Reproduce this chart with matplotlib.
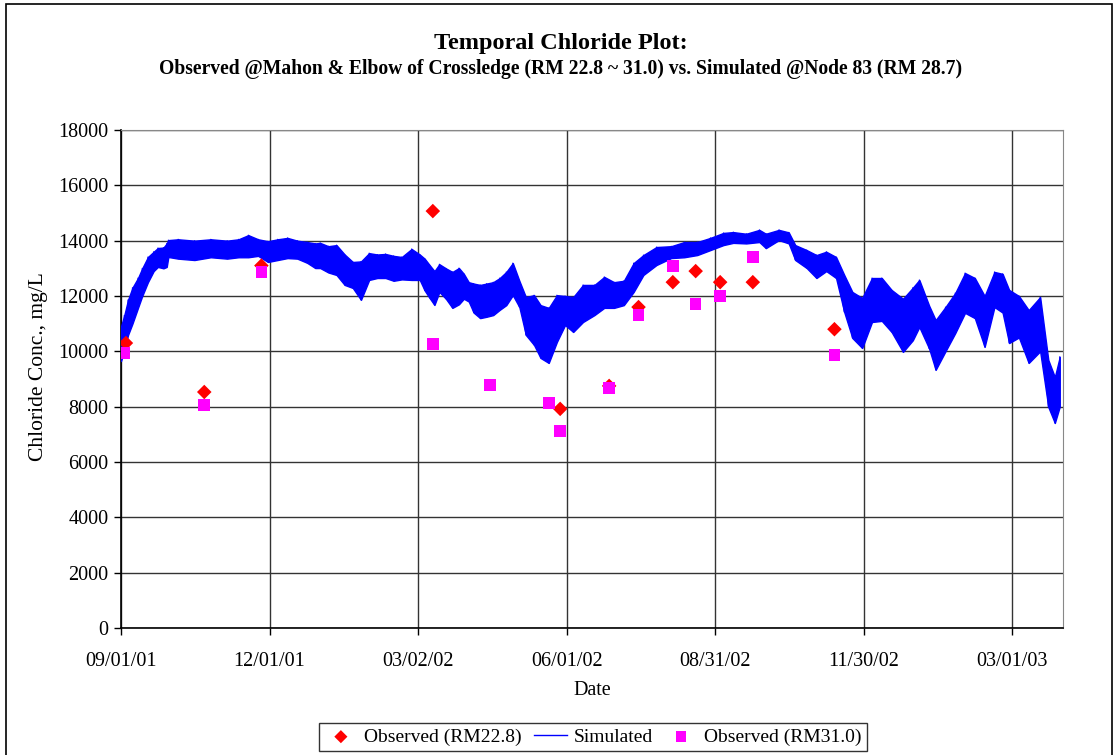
import numpy as np
import matplotlib
matplotlib.use("Agg")
import matplotlib.pyplot as plt
import matplotlib.dates as mdates
from matplotlib.patches import Rectangle

plt.rcParams['font.family'] = ['Liberation Serif', 'DejaVu Serif']

START = np.datetime64('2001-09-01')

# ---- observed data (days after 09/01/01, mg/L) ----
obs228_days = [3, 51, 86, 191, 269, 299, 317, 338, 352, 367, 387, 437]
obs228_vals = [10300, 8530, 13100, 15070, 7920, 8750, 11600, 12500, 12900, 12500, 12500, 10800]

obs310_days = [2, 51, 86, 191, 226, 262, 269, 299, 317, 338, 352, 367, 387, 437]
obs310_vals = [9940, 8060, 12870, 10270, 8780, 8130, 7120, 8670, 11310, 13080, 11710, 12000, 13410, 9870]

# ---- simulated series, read as low/high envelope of the dense trace ----
sim_days = [0, 2, 4.3, 7, 10.4, 13, 16.5, 20, 22.6, 26, 28, 29, 35, 45, 55, 65, 72, 78, 84, 90,
            96, 102, 108, 114, 119, 122, 127, 132, 137, 142, 147, 152, 157, 162, 167, 172, 178,
            183, 186, 189, 192, 195, 199, 203, 207, 210, 213, 216, 220, 224, 228, 232, 236, 240,
            244, 248, 253, 257, 262, 267, 272, 277, 283, 290, 296, 302, 308, 314, 320, 328, 337,
            345, 353, 361, 369, 375, 383, 391, 395, 403, 409, 413, 420, 426, 432, 438, 443, 448,
            454, 460, 466, 472, 479, 485, 489, 495, 499, 505, 511, 517, 523, 529, 535, 540, 544,
            550, 556, 563, 568, 572, 575]
sim_low = [9650, 10000, 10590, 11000, 11570, 12000, 12500, 12900, 13050, 13000, 13050, 13410,
           13350, 13300, 13400, 13350, 13400, 13400, 13450, 13230, 13300, 13370, 13350, 13200,
           13010, 13010, 12850, 12760, 12400, 12290, 11860, 12580, 12650, 12650, 12550, 12600,
           12580, 12580, 12200, 11930, 11675, 12145, 11900, 11570, 11700, 11900, 11800, 11400,
           11200, 11250, 11310, 11500, 11670, 12030, 11600, 10590, 10230, 9760, 9580, 10340,
           10950, 10700, 11060, 11310, 11570, 11570, 11670, 12145, 12760, 13120, 13370, 13400,
           13480, 13660, 13840, 13920, 13900, 13950, 13730, 14020, 13900, 13300, 13010, 12650,
           12900, 12650, 11420, 10480, 10120, 11060, 11100, 10700, 9980, 10400, 10880, 10100,
           9330, 10000, 10660, 11390, 11200, 10160, 11600, 11400, 10300, 10500, 9580, 10000,
           7990, 7410, 8000]
sim_high = [10900, 11300, 11860, 12300, 12650, 13000, 13410, 13600, 13735, 13750, 13900, 14020,
            14050, 14000, 14050, 14000, 14050, 14200, 14050, 13980, 14050, 14100, 14000, 13950,
            13900, 13920, 13800, 13840, 13500, 13230, 13250, 13550, 13500, 13520, 13450, 13410,
            13700, 13500, 13350, 13120, 12900, 13150, 13000, 12870, 13010, 12800, 12500, 12450,
            12400, 12450, 12500, 12650, 12870, 13190, 12550, 11960, 12030, 11670, 11570, 12030,
            12000, 11960, 12400, 12400, 12690, 12500, 12550, 13190, 13480, 13770, 13800, 13950,
            13950, 14100, 14280, 14310, 14250, 14390, 14250, 14390, 14300, 13840, 13660, 13480,
            13600, 13410, 12760, 12145, 11930, 12650, 12650, 12220, 11900, 12300, 12580, 11650,
            11130, 11600, 12110, 12830, 12650, 12000, 12870, 12800, 12220, 12000, 11490, 11960,
            9690, 9070, 9800]

x_tick_days = [0, 91, 182, 273, 364, 455, 546]
x_max_day = 577

def to_dates(days):
    return START + (np.array(days, dtype=float) * 86400).astype('timedelta64[s]')

fig = plt.figure(figsize=(11.13, 7.55), dpi=100)
ax = fig.add_axes([121/1113, 1 - 628/755, (1063 - 121)/1113, (628 - 130)/755])

sd = to_dates(sim_days)
ax.fill_between(sd, sim_low, sim_high, color='#0000ff', linewidth=1.0, edgecolor='#0000ff', zorder=3)
# trace zig-zagging between the read lows and highs, to give the dense-trace texture
zz_x = np.repeat(sd, 2)
zz_y = np.column_stack([sim_low, sim_high]).ravel()
ax.plot(zz_x, zz_y, color='#0000ff', lw=0.8, zorder=3)
ax.plot([], [], color='#0000ff', lw=1, label='Simulated')

ax.scatter(to_dates(obs228_days), obs228_vals, marker='D', s=55, color='#ff0000',
           edgecolors='none', zorder=4, label='Observed (RM22.8)')
ax.scatter(to_dates(obs310_days), obs310_vals, marker='s', s=70, color='#ff00ff',
           edgecolors='none', zorder=5, label='Observed (RM31.0)')

ax.set_xlim(to_dates([0])[0], to_dates([x_max_day])[0])
ax.set_ylim(0, 18000)
ax.set_yticks(np.arange(0, 18001, 2000))
ticks = to_dates(x_tick_days)
ax.set_xticks(ticks)
ax.xaxis.set_major_formatter(mdates.DateFormatter('%m/%d/%y'))
ax.grid(True, color='#333333', linewidth=1.0, zorder=0)
ax.set_axisbelow(True)
ax.tick_params(axis='both', labelsize=14.5, direction='out', length=5, width=1, color='black', pad=4)
ax.tick_params(axis='x', pad=12)
for s in ['top', 'right']:
    ax.spines[s].set_color('#888888')
for s in ['left', 'bottom']:
    ax.spines[s].set_color('black')
    ax.spines[s].set_linewidth(1.2)

ax.set_xlabel('Date', fontsize=14.5)
ax.xaxis.set_label_coords(0.5, -(681 - 628) / 498)
ax.set_ylabel('Chloride Conc., mg/L', fontsize=15.5)
ax.yaxis.set_label_coords((48 - 121) / 942, (628 - 367) / 498)

fig.text(0.504, 0.943, 'Temporal Chloride Plot:', ha='center', va='center', fontsize=17.5, fontweight='bold')
fig.text(0.504, 0.909, 'Observed @Mahon & Elbow of Crossledge (RM 22.8 ~ 31.0) vs. Simulated @Node 83 (RM 28.7)',
         ha='center', va='center', fontsize=14.1, fontweight='bold')

h, l = ax.get_legend_handles_labels()
order = [l.index('Observed (RM22.8)'), l.index('Simulated'), l.index('Observed (RM31.0)')]
leg = fig.legend([h[i] for i in order], [l[i] for i in order], loc='center',
                 bbox_to_anchor=(593/1113, 1 - 737/755), ncol=3, fontsize=14, frameon=True,
                 fancybox=False, edgecolor='black', handlelength=1.7, handletextpad=0.35,
                 columnspacing=0.6, borderpad=0.25, markerscale=0.9)
leg.get_frame().set_linewidth(1.0)

fig.patches.append(Rectangle((6/1113, -0.01), (1112 - 6)/1113, 1 - 4/755 + 0.01,
                             transform=fig.transFigure, fill=False, edgecolor='black', linewidth=1.2))

fig.savefig('out.png', dpi=100)
